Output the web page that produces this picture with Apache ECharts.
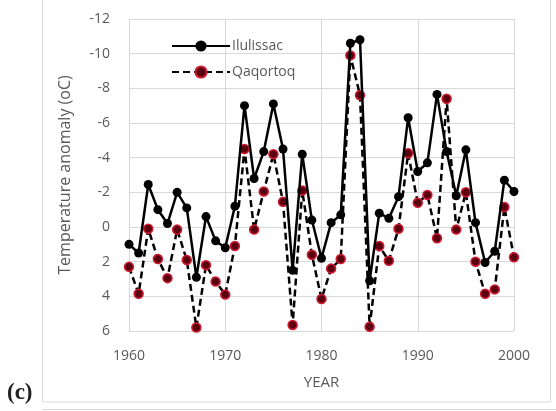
<!DOCTYPE html>
<html>
<head>
<meta charset="utf-8">
<script src="https://cdn.jsdelivr.net/npm/echarts@6/dist/echarts.min.js"></script>
<style>html,body{margin:0;padding:0;background:#fff}#c{width:556px;height:411px}</style>
</head>
<body>
<div id="c"></div>
<script>
const years = [];
for (let y = 1960; y <= 2000; y++) years.push(y);
const ilulissac = [1.0, 1.5, -2.45, -1.0, -0.2, -2.0, -1.1, 2.9, -0.6, 0.8, 1.2, -1.2, -7.0, -2.8, -4.35, -7.1, -4.5, 2.5, -4.2, -0.4, 1.8, -0.25, -0.7, -10.6, -10.8, 3.1, -0.8, -0.5, -1.75, -6.3, -3.2, -3.7, -7.65, -4.35, -1.8, -4.45, -0.25, 2.05, 1.4, -2.7, -2.05];
const qaqortoq = [2.3, 3.85, 0.1, 1.85, 2.95, 0.15, 1.9, 5.8, 2.2, 3.15, 3.9, 1.1, -4.5, 0.15, -2.05, -4.2, -1.45, 5.65, -2.1, 1.6, 4.15, 2.4, 1.85, -9.9, -7.6, 5.75, 1.1, 1.95, 0.1, -4.25, -1.4, -1.85, 0.65, -7.4, 0.15, -2.0, 2.0, 3.85, 3.6, -1.15, 1.75];
const names = ['Ilulissac', 'Qaqortoq'];

const chart = echarts.init(document.getElementById('c'), null, {renderer: 'canvas'});
const font = '"Open Sans", "Liberation Sans", sans-serif';
chart.setOption({
  animation: false,
  backgroundColor: '#fff',
  grid: {left: 129, right: 42, top: 19, bottom: 80},
  legend: {
    orient: 'vertical', left: 166, top: 34, itemGap: 12, itemWidth: 58, itemHeight: 14,
    textStyle: {color: '#595959', fontSize: 14, fontFamily: font, padding: [0, 0, 0, -3]},
    data: names
  },
  xAxis: {
    type: 'value', min: 1960, max: 2000, interval: 10,
    name: 'YEAR', nameLocation: 'middle', nameGap: 44,
    nameTextStyle: {color: '#595959', fontSize: 15, fontFamily: font},
    axisLine: {show: false}, axisTick: {show: false},
    axisLabel: {color: '#595959', fontSize: 14, fontFamily: font, margin: 18, formatter: v => String(v)},
    splitLine: {show: true, lineStyle: {color: '#d9d9d9', width: 1}}
  },
  yAxis: {
    type: 'value', inverse: true, min: -12, max: 6, interval: 2,
    name: 'Temperature anomaly (oC)', nameLocation: 'middle', nameGap: 56,
    nameTextStyle: {color: '#595959', fontSize: 16, fontFamily: font},
    axisLine: {show: false}, axisTick: {show: false},
    axisLabel: {color: '#595959', fontSize: 14, fontFamily: font, margin: 19},
    splitLine: {show: true, lineStyle: {color: '#d9d9d9', width: 1}}
  },
  graphic: [
    {type: 'rect', shape: {x: 42.5, y: -2, width: 508, height: 404}, style: {fill: 'none', stroke: '#d9d9d9', lineWidth: 1}, silent: true},
    {type: 'line', shape: {x1: 42, y1: 409.5, x2: 556, y2: 409.5}, style: {stroke: '#d9d9d9', lineWidth: 1}, silent: true},
    {type: 'text', left: 7, top: 382, style: {text: '(c)', font: 'bold 23px "Liberation Serif", "DejaVu Serif", serif', fill: '#222'}}
  ],
  series: [
    {
      name: names[0], type: 'line',
      data: years.map((y, i) => [y, ilulissac[i]]),
      symbol: 'circle', symbolSize: 9,
      lineStyle: {color: '#000', width: 2.5},
      itemStyle: {color: '#000'},
      z: 3
    },
    {
      name: names[1], type: 'line',
      data: years.map((y, i) => [y, qaqortoq[i]]),
      symbol: 'circle', symbolSize: 9,
      lineStyle: {color: '#000', width: 2.5, type: [7, 4]},
      itemStyle: {color: '#5a0010', borderColor: '#d01a30', borderWidth: 1.5},
      z: 2
    }
  ]
});
</script>
</body>
</html>
